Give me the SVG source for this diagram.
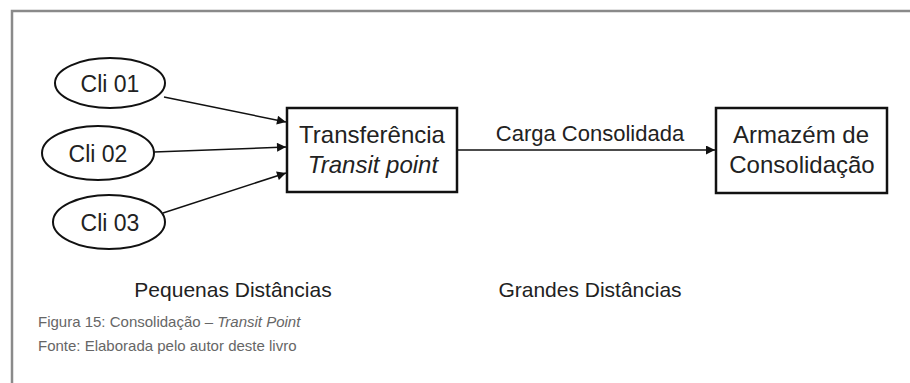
<svg xmlns="http://www.w3.org/2000/svg" width="910" height="383" viewBox="0 0 910 383">
<defs>
<style>
.t{font-family:"Liberation Sans",Arial,sans-serif;fill:#222;text-anchor:middle}
.cap{font-family:"Liberation Sans",Arial,sans-serif;fill:#666;font-size:15px}
.node{fill:#fff;stroke:#111;stroke-width:2}
.box{fill:#fff;stroke:#111;stroke-width:2.5}
.edge{stroke:#111;stroke-width:1.5;fill:none;marker-end:url(#ah)}
</style>
<marker id="ah" viewBox="0 0 10 10" refX="10" refY="5" markerWidth="12" markerHeight="9" markerUnits="userSpaceOnUse" orient="auto">
<path d="M0,0 L10,5 L0,10 z" fill="#111"/>
</marker>
</defs>
<rect width="910" height="383" fill="#fff"/>
<path d="M12,383 V11 H910" fill="none" stroke="#8a8a8a" stroke-width="2.5"/>
<g id="connectors">
<line class="edge" x1="164" y1="97" x2="286" y2="122"/>
<line class="edge" x1="154" y1="152" x2="286" y2="147"/>
<line class="edge" x1="163" y1="213" x2="286" y2="173"/>
<line class="edge" x1="458" y1="150" x2="715" y2="150"/>
<text class="t" x="590" y="141" font-size="22">Carga Consolidada</text>
</g>
<g id="cli01"><ellipse class="node" cx="110" cy="83" rx="55" ry="25"/><text class="t" x="110" y="92" font-size="23">Cli 01</text></g>
<g id="cli02"><ellipse class="node" cx="98" cy="153" rx="56" ry="27"/><text class="t" x="98" y="162" font-size="23">Cli 02</text></g>
<g id="cli03"><ellipse class="node" cx="109" cy="222" rx="56" ry="27"/><text class="t" x="110" y="231" font-size="23">Cli 03</text></g>
<g id="transferencia"><rect class="box" x="287" y="108" width="170" height="84"/>
<text class="t" x="372" y="143" font-size="24">Transferência</text>
<text class="t" x="373" y="173" font-size="24" font-style="italic">Transit point</text></g>
<g id="armazem"><rect class="box" x="716" y="108" width="171" height="85"/>
<text class="t" x="801" y="143" font-size="24">Armazém de</text>
<text class="t" x="802" y="173" font-size="24">Consolidação</text></g>
<text class="t" x="233" y="297" font-size="21">Pequenas Distâncias</text>
<text class="t" x="590" y="297" font-size="21">Grandes Distâncias</text>
<text class="cap" x="38" y="327">Figura 15: Consolidação – <tspan font-style="italic">Transit Point</tspan></text>
<text class="cap" x="38" y="351">Fonte: Elaborada pelo autor deste livro</text>
</svg>
